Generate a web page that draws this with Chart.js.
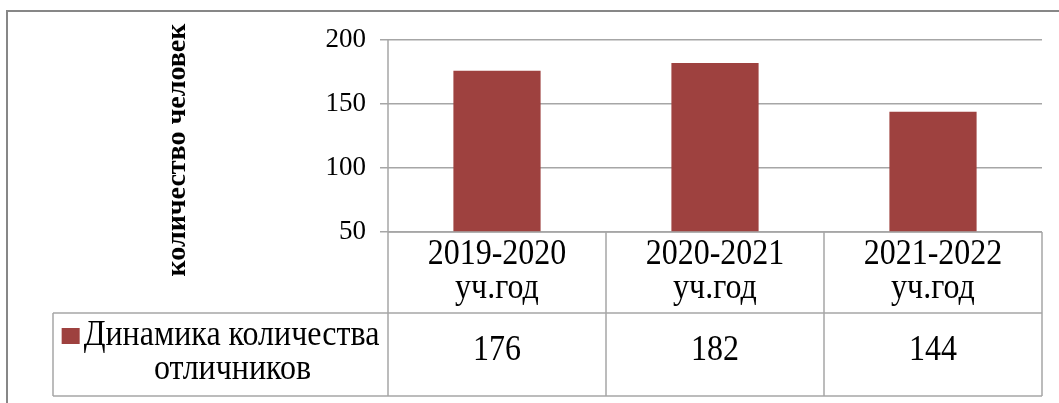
<!DOCTYPE html>
<html>
<head>
<meta charset="utf-8">
<script src="https://cdn.jsdelivr.net/npm/chart.js@4"></script>
<style>
  html, body { margin: 0; padding: 0; background: #fff; }
  #wrap { position: relative; width: 1059px; height: 403px; }
</style>
</head>
<body>
<div id="wrap"><canvas id="bar-chart" width="1059" height="403"></canvas></div>
<script>
const years = [["2019-2020", "уч.год"], ["2020-2021", "уч.год"], ["2021-2022", "уч.год"]];
const values = [176, 182, 144];
const seriesName = ["Динамика количества", "отличников"];
const axisTitle = "количество человек";
const yTicks = [50, 100, 150, 200];

const barColor = "#9e413f";
const lineColor = "#a6a6a6";
const serif = "Liberation Serif";

// text in the original is a bit taller than wide
function tallText(ctx, text, x, y) {
  ctx.save();
  ctx.translate(x, y);
  ctx.scale(1, 1.12);
  ctx.fillText(text, 0, 0);
  ctx.restore();
}

// data table + frame drawn under the plot, positioned from the x scale
const tablePlugin = {
  id: "dataTable",
  afterDraw(chart) {
    const ctx = chart.ctx;
    const x = chart.scales.x;
    const area = chart.chartArea;
    const half = (x.getPixelForValue(1) - x.getPixelForValue(0)) / 2;
    const row1 = area.bottom;
    const row2 = row1 + 81;
    const row3 = row2 + 83;
    const legendLeft = 53;

    ctx.save();
    // outer frame
    ctx.strokeStyle = "#878787";
    ctx.lineWidth = 2;
    ctx.beginPath();
    ctx.moveTo(7, 403);
    ctx.lineTo(7, 11);
    ctx.lineTo(1059, 11);
    ctx.stroke();

    // table grid
    ctx.strokeStyle = lineColor;
    ctx.lineWidth = 1.5;
    ctx.beginPath();
    ctx.moveTo(area.left, row1);
    ctx.lineTo(area.right, row1);
    ctx.moveTo(legendLeft, row2);
    ctx.lineTo(area.right, row2);
    ctx.moveTo(legendLeft, row3);
    ctx.lineTo(area.right, row3);
    ctx.moveTo(legendLeft, row2);
    ctx.lineTo(legendLeft, row3);
    ctx.moveTo(area.left, area.top);
    ctx.lineTo(area.left, row3);
    for (let i = 0; i < years.length; i++) {
      const r = x.getPixelForValue(i) + half;
      ctx.moveTo(r, row1);
      ctx.lineTo(r, row3);
    }
    ctx.stroke();

    // category labels and values
    ctx.fillStyle = "#000";
    ctx.textAlign = "center";
    ctx.textBaseline = "alphabetic";
    ctx.font = "32px " + serif;
    for (let i = 0; i < years.length; i++) {
      const cx = x.getPixelForValue(i);
      tallText(ctx, years[i][0], cx, row1 + 32);
      tallText(ctx, years[i][1], cx, row1 + 66);
      tallText(ctx, String(values[i]), cx, row2 + 47);
    }

    // legend cell
    const w1 = ctx.measureText(seriesName[0]).width;
    const mid = (legendLeft + area.left) / 2;
    const start = mid - (22 + w1) / 2;
    ctx.fillStyle = barColor;
    ctx.fillRect(start, row2 + 15, 18, 16);
    ctx.fillStyle = "#000";
    ctx.textAlign = "left";
    tallText(ctx, seriesName[0], start + 22, row2 + 32);
    ctx.textAlign = "center";
    tallText(ctx, seriesName[1], mid + 12, row2 + 66);

    // rotated axis title
    ctx.font = "bold 28px " + serif;
    ctx.textBaseline = "middle";
    ctx.translate(178, 150);
    ctx.rotate(-Math.PI / 2);
    ctx.fillText(axisTitle, 0, 0);
    ctx.restore();
  }
};

new Chart(document.getElementById("bar-chart"), {
  type: "bar",
  data: {
    labels: years.map(y => y.join(" ")),
    datasets: [
      {
        label: seriesName.join(" "),
        data: values,
        backgroundColor: barColor,
        categoryPercentage: 1,
        barPercentage: 0.4,
      },
    ],
  },
  options: {
    responsive: false,
    animation: false,
    layout: { padding: { left: 160, top: 40, right: 17, bottom: 171 } },
    plugins: {
      legend: { display: false },
      tooltip: { enabled: false },
    },
    scales: {
      x: { display: false },
      y: {
        min: 50,
        max: 200,
        afterBuildTicks: s => { s.ticks = yTicks.map(v => ({ value: v })); },
        afterFit: s => { s.width = 228; },
        border: { display: false },
        grid: { color: lineColor, lineWidth: 1.5, tickLength: 8 },
        ticks: {
          padding: 14,
          color: "#000",
          font: { family: serif, size: 27 },
        },
      },
    },
  },
  plugins: [tablePlugin],
});
</script>
</body>
</html>
